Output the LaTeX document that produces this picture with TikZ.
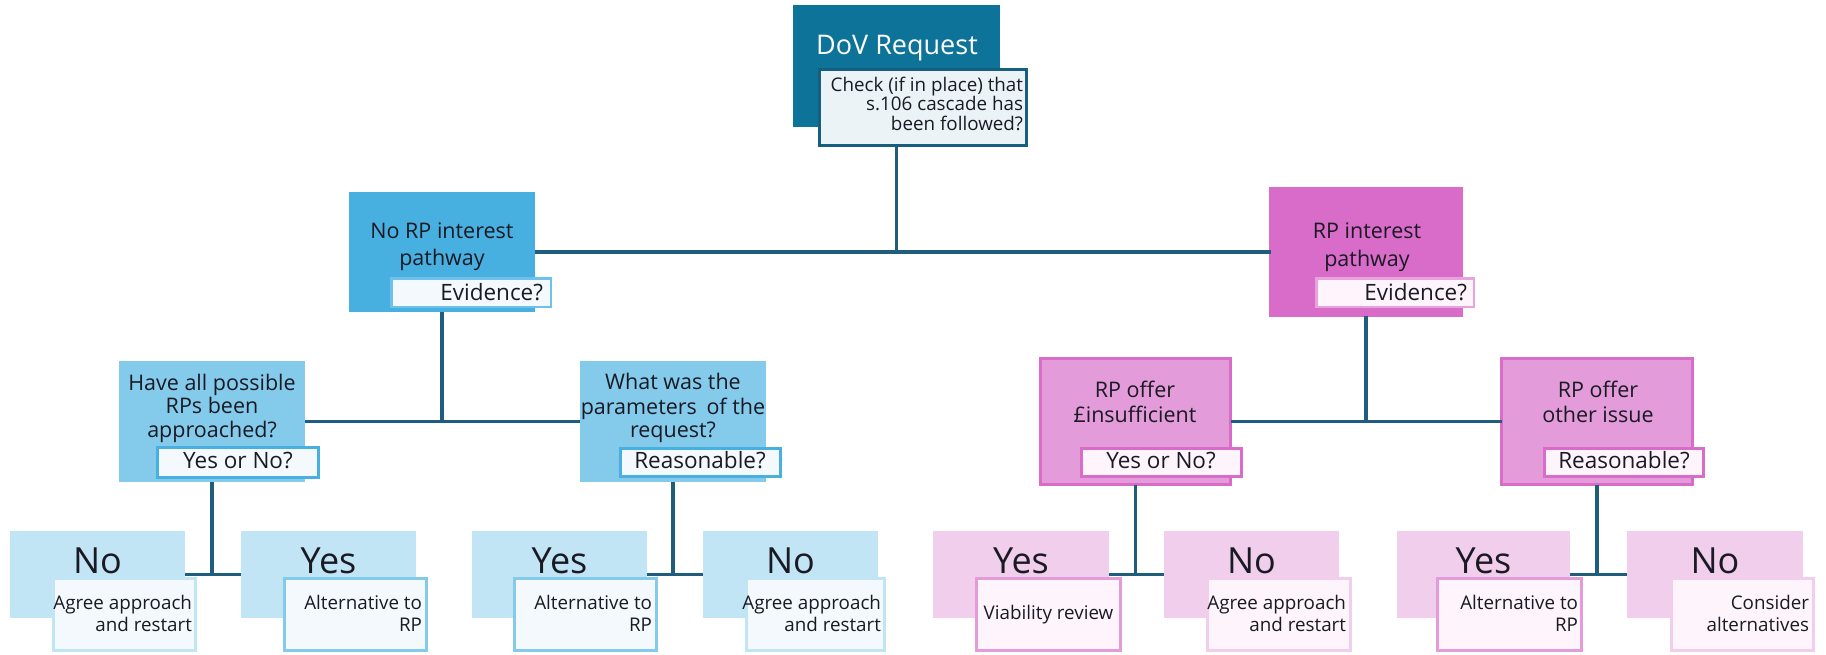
\documentclass[tikz,border=0pt]{standalone}
\usepackage{fontspec}
\setmainfont{Open Sans}
\definecolor{dovc}{HTML}{0E7399}
\definecolor{linec}{HTML}{1E5E7C}
\definecolor{dovsubfill}{HTML}{EBF3F7}
\definecolor{dovsubdraw}{HTML}{175F80}
\definecolor{blueA}{HTML}{47B0E0}
\definecolor{blueAl}{HTML}{6CC2EA}
\definecolor{blueB}{HTML}{84CBEB}
\definecolor{blueC}{HTML}{C2E5F5}
\definecolor{bluesubfill}{HTML}{F3F9FD}
\definecolor{pinkA}{HTML}{D86CC8}
\definecolor{pinkAl}{HTML}{E8A3DF}
\definecolor{pinkB}{HTML}{E49BDA}
\definecolor{pinkC}{HTML}{F1CEEC}
\definecolor{pinksubfill}{HTML}{FEF4FC}
\definecolor{txtc}{HTML}{1A1A24}
\newcommand\fTitle{\fontsize{27}{30}\selectfont}
\newcommand\fMain{\fontsize{21.5}{24}\selectfont}
\newcommand\fQ{\fontsize{21.5}{23}\selectfont}
\newcommand\fTag{\fontsize{22.5}{24}\selectfont}
\newcommand\fBig{\fontsize{36}{38}\selectfont}
\newcommand\fSmall{\fontsize{18.8}{20}\selectfont}
\newcommand\fDov{\fontsize{18.8}{20}\selectfont}
\tikzset{
  rbox/.style 2 args={rectangle, inner sep=0pt, outer sep=0pt, anchor=north west,
    minimum width=#1pt, minimum height=#2pt},
  conn/.style={draw=linec, line width=3.5pt},
  lbl/.style={inner sep=0pt, outer sep=0pt, text=txtc},
  subb/.style={line width=3pt},
}
\begin{document}
\begin{tikzpicture}[x=1pt,y=-1pt]
\useasboundingbox (0,0) rectangle (1826,654);
% ---------- boxes (main) ----------
\node[rbox={207}{122}, fill=dovc] (dov) at (793,5) {};
\node[rbox={186}{120}, fill=blueA] (noRP) at (349,192) {};
\node[rbox={191}{127}, fill=pinkA, draw=pinkA, line width=3pt] (RP) at (1270.5,188.5) {};
\node[rbox={186}{121}, fill=blueB] (qA) at (119,361) {};
\node[rbox={186}{121}, fill=blueB] (qB) at (580,361) {};
\node[rbox={190}{126}, fill=pinkB, draw=pinkA, line width=3pt] (qC) at (1040.5,358.5) {};
\node[rbox={191}{126}, fill=pinkB, draw=pinkA, line width=3pt] (qD) at (1501.5,358.5) {};
\node[rbox={175}{87}, fill=blueC] (aNo) at (10,531) {};
\node[rbox={175}{87}, fill=blueC] (aYes) at (241,531) {};
\node[rbox={175}{87}, fill=blueC] (bYes) at (472,531) {};
\node[rbox={175}{87}, fill=blueC] (bNo) at (703,531) {};
\node[rbox={176}{87}, fill=pinkC] (cYes) at (933,531) {};
\node[rbox={175}{87}, fill=pinkC] (cNo) at (1164,531) {};
\node[rbox={173}{87}, fill=pinkC] (dYes) at (1397,531) {};
\node[rbox={176}{87}, fill=pinkC] (dNo) at (1627,531) {};
% ---------- connectors ----------
\draw[conn] (noRP.east) -- (RP.west);
\draw[conn] (dov.south) -- (dov.south |- noRP.east);
\draw[conn] (qA.east) -- (qB.west);
\draw[conn] (noRP.south) -- (noRP.south |- qA.east);
\draw[conn] (qC.east) -- (qD.west);
\draw[conn] (RP.south) -- (RP.south |- qC.east);
\draw[conn] (aNo.east) -- (aYes.west);
\draw[conn] (qA.south) -- (qA.south |- aNo.east);
\draw[conn] (bYes.east) -- (bNo.west);
\draw[conn] (qB.south) -- (qB.south |- bYes.east);
\draw[conn] (cYes.east) -- (cNo.west);
\draw[conn] (qC.south) -- (qC.south |- cYes.east);
\draw[conn] (dYes.east) -- (dNo.west);
\draw[conn] (qD.south) -- (qD.south |- dYes.east);
% ---------- sub boxes ----------
\node[rbox={207}{76}, subb, fill=dovsubfill, draw=dovsubdraw] (dovsub) at (819.5,69.5) {};
\node[rbox={159.5}{28.5}, line width=2.5pt, fill=bluesubfill, draw=blueAl] (noRPsub) at (391.25,278.25) {};
\node[rbox={157.5}{28.5}, line width=2.5pt, fill=pinksubfill, draw=pinkAl] (RPsub) at (1316.25,278.25) {};
\node[rbox={161}{30}, subb, fill=bluesubfill, draw=blueA] (qAsub) at (157.5,447.5) {};
\node[rbox={160}{28}, subb, fill=bluesubfill, draw=blueA] (qBsub) at (620.5,448.5) {};
\node[rbox={160}{28}, subb, fill=pinksubfill, draw=pinkA] (qCsub) at (1081.5,448.5) {};
\node[rbox={159}{28}, subb, fill=pinksubfill, draw=pinkA] (qDsub) at (1544.5,448.5) {};
\node[rbox={142}{72}, subb, fill=bluesubfill, draw=blueC] (aNosub) at (53.5,578.5) {};
\node[rbox={142}{72}, subb, fill=bluesubfill, draw=blueB] (aYessub) at (284.5,578.5) {};
\node[rbox={142}{72}, subb, fill=bluesubfill, draw=blueB] (bYessub) at (514.5,578.5) {};
\node[rbox={138}{72}, subb, fill=bluesubfill, draw=blueC] (bNosub) at (746.5,578.5) {};
\node[rbox={144}{72}, subb, fill=pinksubfill, draw=pinkB] (cYessub) at (976.5,578.5) {};
\node[rbox={143}{72}, subb, fill=pinksubfill, draw=pinkC] (cNosub) at (1207.5,578.5) {};
\node[rbox={144}{72}, subb, fill=pinksubfill, draw=pinkB] (dYessub) at (1437.5,578.5) {};
\node[rbox={142}{72}, subb, fill=pinksubfill, draw=pinkC] (dNosub) at (1671.5,578.5) {};
% ---------- texts ----------
\node[lbl, text=white, anchor=base] (tdov) at (897,54) {\fTitle DoV Request};
\node[lbl, anchor=base east] (tdov1) at (1023,91) {\fDov Check (if in place) that};
\node[lbl, anchor=base east] (tdov2) at (1023,110) {\fDov s.106 cascade has};
\node[lbl, anchor=base east] (tdov3) at (1023,130) {\fDov been followed?};
\node[lbl, anchor=base] (tnoRP1) at (442,238) {\fMain No RP interest};
\node[lbl, anchor=base] (tnoRP2) at (442,265) {\fMain pathway};
\node[lbl, anchor=base east] (tnoRPs) at (543,300) {\fTag Evidence?};
\node[lbl, anchor=base] (tRP1) at (1367,238) {\fMain RP interest};
\node[lbl, anchor=base] (tRP2) at (1367,266) {\fMain pathway};
\node[lbl, anchor=base east] (tRPs) at (1467,300) {\fTag Evidence?};
\node[lbl, anchor=base] (tqA1) at (212,390) {\fQ Have all possible};
\node[lbl, anchor=base] (tqA2) at (212,413) {\fQ RPs been};
\node[lbl, anchor=base] (tqA3) at (212,437) {\fQ approached?};
\node[lbl, anchor=base] (tqAs) at (238,468) {\fTag Yes or No?};
\node[lbl, anchor=base] (tqB1) at (673,389) {\fQ What was the};
\node[lbl, anchor=base] (tqB2) at (673,414) {\fQ parameters\hspace{4pt} of the};
\node[lbl, anchor=base] (tqB3) at (673,437) {\fQ request?};
\node[lbl, anchor=base] (tqBs) at (700,468) {\fTag Reasonable?};
\node[lbl, anchor=base] (tqC1) at (1135,397) {\fQ RP offer};
\node[lbl, anchor=base] (tqC2) at (1135,422) {\fQ £insufficient};
\node[lbl, anchor=base] (tqCs) at (1161,468) {\fTag Yes or No?};
\node[lbl, anchor=base] (tqD1) at (1598,397) {\fQ RP offer};
\node[lbl, anchor=base] (tqD2) at (1598,422) {\fQ other issue};
\node[lbl, anchor=base] (tqDs) at (1624,468) {\fTag Reasonable?};
% level 4
\node[lbl, anchor=base] (taNo) at (97.5,573) {\fBig No};
\node[lbl, anchor=base] (taYes) at (328.5,573) {\fBig Yes};
\node[lbl, anchor=base] (tbYes) at (559.5,573) {\fBig Yes};
\node[lbl, anchor=base] (tbNo) at (790.5,573) {\fBig No};
\node[lbl, anchor=base] (tcYes) at (1021,573) {\fBig Yes};
\node[lbl, anchor=base] (tcNo) at (1251.5,573) {\fBig No};
\node[lbl, anchor=base] (tdYes) at (1483.5,573) {\fBig Yes};
\node[lbl, anchor=base] (tdNo) at (1715,573) {\fBig No};
\node[lbl, anchor=base east] (saNo1) at (192,609) {\fSmall Agree approach};
\node[lbl, anchor=base east] (saNo2) at (192,631) {\fSmall and restart};
\node[lbl, anchor=base east] (saYes1) at (422,609) {\fSmall Alternative to};
\node[lbl, anchor=base east] (saYes2) at (422,631) {\fSmall RP};
\node[lbl, anchor=base east] (sbYes1) at (652,609) {\fSmall Alternative to};
\node[lbl, anchor=base east] (sbYes2) at (652,631) {\fSmall RP};
\node[lbl, anchor=base east] (sbNo1) at (881,609) {\fSmall Agree approach};
\node[lbl, anchor=base east] (sbNo2) at (881,631) {\fSmall and restart};
\node[lbl, anchor=base] (scYes) at (1048.5,619) {\fSmall Viability review};
\node[lbl, anchor=base east] (scNo1) at (1346,609) {\fSmall Agree approach};
\node[lbl, anchor=base east] (scNo2) at (1346,631) {\fSmall and restart};
\node[lbl, anchor=base east] (sdYes1) at (1578,609) {\fSmall Alternative to};
\node[lbl, anchor=base east] (sdYes2) at (1578,631) {\fSmall RP};
\node[lbl, anchor=base east] (sdNo1) at (1809,609) {\fSmall Consider};
\node[lbl, anchor=base east] (sdNo2) at (1809,631) {\fSmall alternatives};
\end{tikzpicture}
\end{document}
